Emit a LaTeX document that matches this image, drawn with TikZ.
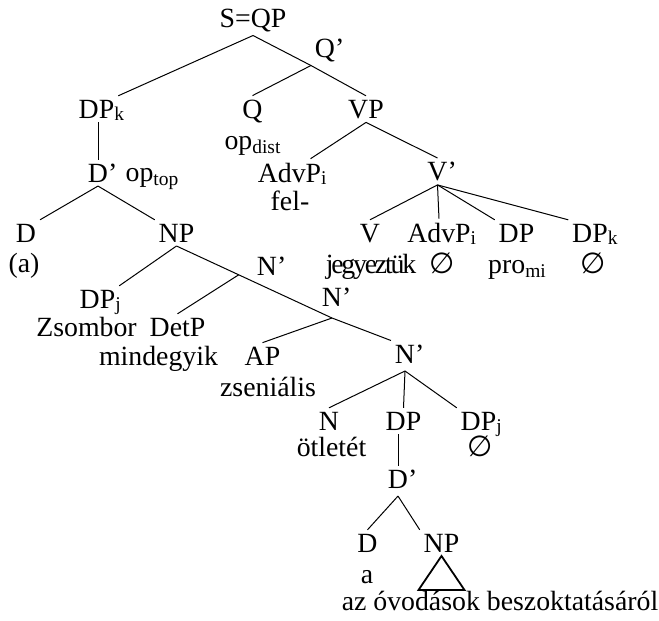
\documentclass[tikz,border=0pt]{standalone}
\usepackage{fontspec}
\setmainfont{Liberation Serif}
\newfontfamily\symfont{DejaVu Sans}
\usepackage{tikz}
\usetikzlibrary{positioning}

\newcommand{\nulla}{{\symfont\fontsize{14.5pt}{16pt}\selectfont ∅}}
\newcommand{\idx}[1]{\rlap{\smash{\raisebox{1pt}{\textsubscript{#1}}}}}

\begin{document}
\begin{tikzpicture}[
  x=0.5pt, y=-0.5pt,
  cat/.style={inner sep=2pt, outer sep=0pt, anchor=base, font=\fontsize{13.9pt}{16pt}\selectfont},
  word/.style={cat, inner sep=0pt},
  branch/.style={line width=0.5pt},
  roof/.style={line width=0.9pt}
]
  \useasboundingbox (0,0) rectangle (659,621);

  \node[cat] (sqp) at (253,27) {S=QP};
  \node[cat] (qbar) at (325,57) {Q\rlap{’}};
  \node[cat] (dpk) at (96.5,118) {DP\idx{k}};
  \node[cat] (q) at (252.5,118) {Q};
  \node[word] (opdist) at (253,149) {op\textsubscript{dist}};
  \node[cat] (vp) at (366,118) {VP};
  \node[cat] (dbar1) at (98,182) {D\rlap{’}};
  \node[word] (optop) at (152.5,181) {op\textsubscript{top}};
  \node[cat] (advp1) at (289.5,182) {AdvP\idx{i}};
  \node[cat] (vbar) at (437.5,180.5) {V\rlap{’}};
  \node[word] (fel) at (290,210) {fel-};
  \node[cat] (d1) at (26,242) {D};
  \node[cat] (np1) at (176.5,242) {NP};
  \node[cat] (v) at (370,242) {V};
  \node[cat] (advp2) at (439,242) {AdvP\idx{i}};
  \node[cat] (dp1) at (516.5,242) {DP};
  \node[cat] (dpk2) at (590,242) {DP\idx{k}};
  \node[word] (ex) at (24,272) {(a)};
  \node[word] (jegy) at (371,273) {\addfontfeature{LetterSpace=-8}jegyeztük};
  \node[word] (nul1) at (442,273) {\nulla};
  \node[word] (promi) at (517.5,273) {pro\textsubscript{mi}};
  \node[word] (nul2) at (593,273) {\nulla};
  \node[cat] (nbar1) at (267,275) {N\rlap{’}};
  \node[cat] (dpj) at (97.5,308) {DP\idx{j}};
  \node[cat] (nbar2) at (332,306) {N\rlap{’}};
  \node[word] (zsombor) at (86.5,336) {Zsombor};
  \node[cat] (detp) at (177.5,336) {DetP};
  \node[word] (mind) at (158.5,365) {mindegyik};
  \node[cat] (ap) at (262.5,365) {AP};
  \node[cat] (nbar3) at (405,363) {N\rlap{’}};
  \node[word] (zsen) at (268,396) {zseniális};
  \node[cat] (n) at (329,430) {N};
  \node[cat] (dp2) at (403.5,430) {DP};
  \node[cat] (dpj2) at (478.5,430) {DP\idx{j}};
  \node[word] (otl) at (331.5,456) {ötletét};
  \node[word] (nul3) at (480,456) {\nulla};
  \node[cat] (dbar2) at (398,488) {D\rlap{’}};
  \node[cat] (d2) at (367.5,552) {D};
  \node[cat] (np2) at (441.5,552) {NP};
  \node[word] (a2) at (367,583) {a};
  \node[word] (phrase) at (500,610) {az óvodások beszoktatásáról};

  \coordinate[below=4pt of nbar2] (nj2);
  \coordinate[below=2pt of nbar3] (nj3);
  \coordinate[below=2pt of dbar2] (dj2);

  \draw[branch] (sqp.south) -- (dpk.north east);
  \draw[branch] (sqp.south) -- (qbar.south west);
  \draw[branch] (qbar.south west) -- (q.north);
  \draw[branch] (qbar.south west) -- (vp.north);
  \draw[branch] (dbar1.north |- dpk.south) -- (dbar1.north);
  \draw[branch] (dbar1.south) -- (d1.north east);
  \draw[branch] (dbar1.south) -- (np1.north west);
  \draw[branch] (vp.south) -- (advp1);
  \draw[branch] (vp.south) -- (vbar.north);
  \draw[branch] (vbar.south) -- (v.north);
  \draw[branch] (vbar.south) -- (advp2.north);
  \draw[branch] (vbar.south) -- (dp1.north west);
  \draw[branch] (vbar.south) -- (dpk2.north west);
  \draw[branch] (np1.south) -- (dpj.north east);
  \draw[branch] (np1.south) -- coordinate[pos=0.4] (nj1) (nj2);
  \draw[branch] (nj1) -- (detp.north);
  \draw[branch] (nj2) -- (ap.north);
  \draw[branch] (nj2) -- (nbar3.north west);
  \draw[branch] (nj3) -- (n.north);
  \draw[branch] (nj3) -- (dp2.north);
  \draw[branch] (nj3) -- (dpj2.north west);
  \draw[branch] (dbar2.north |- dp2.south) -- (dbar2.north);
  \draw[branch] (dj2) -- (d2.north);
  \draw[branch] (dj2) -- (np2.north west);
  \draw[roof] (np2.south) -- ++(-23,34) -- ++(46,0) -- cycle;
\end{tikzpicture}
\end{document}
